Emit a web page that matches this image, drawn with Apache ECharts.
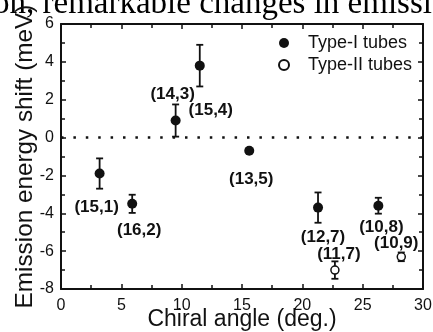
<!DOCTYPE html>
<html>
<head>
<meta charset="utf-8">
<script src="https://cdn.jsdelivr.net/npm/echarts@6/dist/echarts.min.js"></script>
<style>
  html, body { margin: 0; padding: 0; background: #fff; }
  #chart { width: 433px; height: 332px; }
</style>
</head>
<body>
<div id="chart"></div>
<script>
// Emission energy shift versus chiral angle for individual (n,m) nanotubes
const typeIAngles = [3.2, 5.9, 9.5, 11.5, 15.6, 21.3, 26.3];
const typeIShifts = [-1.9, -3.5, 0.9, 3.8, -0.7, -3.7, -3.6];
const typeIErrors = [0.8, 0.48, 0.85, 1.1, 0.1, 0.8, 0.42];
const typeILabels = ['(15,1)', '(16,2)', '(14,3)', '(15,4)', '(13,5)', '(12,7)', '(10,8)'];

const typeIIAngles = [22.7, 28.2];
const typeIIShifts = [-7.0, -6.3];
const typeIIErrors = [0.46, 0.23];
const typeIILabels = ['(11,7)', '(10,9)'];

const xTicks = [0, 5, 10, 15, 20, 25, 30];
const yTicks = [-8, -6, -4, -2, 0, 2, 4, 6];

// label placement (pixel offsets from each marker centre)
const typeILabelOffsets = [[-3, 34], [7, 26], [-3, -26], [11, 45], [2, 28], [5, 30], [3, 22]];
const typeIILabelOffsets = [[4, -16], [-5, -14]];

const FONT = '"Liberation Sans", Arial, sans-serif';
const INK = '#111';

function points(xs, ys, names, offsets) {
  return xs.map((x, i) => ({
    value: [x, ys[i]],
    name: names[i],
    label: { offset: offsets[i] }
  }));
}
function bars(xs, ys, errs) {
  return xs.map((x, i) => [x, ys[i], errs[i]]);
}

function renderErrorBar(params, api) {
  const x = api.value(0), y = api.value(1), e = api.value(2);
  const top = api.coord([x, y + e]);
  const bot = api.coord([x, y - e]);
  const hw = 3.5;
  const st = { stroke: INK, lineWidth: 1.8 };
  return {
    type: 'group',
    children: [
      { type: 'line', shape: { x1: top[0], y1: top[1], x2: bot[0], y2: bot[1] }, style: st },
      { type: 'line', shape: { x1: top[0] - hw, y1: top[1], x2: top[0] + hw, y2: top[1] }, style: st },
      { type: 'line', shape: { x1: bot[0] - hw, y1: bot[1], x2: bot[0] + hw, y2: bot[1] }, style: st }
    ]
  };
}

const xMin = xTicks[0], xMax = xTicks[xTicks.length - 1];
const yMin = yTicks[0], yMax = yTicks[yTicks.length - 1];

function xAxisBase(position, showLabel) {
  return {
    type: 'value', position, min: xMin, max: xMax, interval: xTicks[1] - xTicks[0],
    axisLine: { show: true, onZero: false, lineStyle: { color: INK, width: 2 } },
    axisTick: { show: true, inside: true, length: 5, lineStyle: { color: INK, width: 1.5 } },
    minorTick: { show: true, splitNumber: 2, length: 4, lineStyle: { color: INK, width: 1.5 } },
    splitLine: { show: false },
    axisLabel: { show: showLabel, color: INK, fontSize: 16, fontFamily: FONT, margin: 9 }
  };
}
function yAxisBase(position, showLabel) {
  return {
    type: 'value', position, min: yMin, max: yMax, interval: yTicks[1] - yTicks[0],
    axisLine: { show: true, onZero: false, lineStyle: { color: INK, width: 2 } },
    axisTick: { show: true, inside: true, length: 5, lineStyle: { color: INK, width: 1.5 } },
    minorTick: { show: true, splitNumber: 2, length: 4, lineStyle: { color: INK, width: 1.5 } },
    splitLine: { show: false },
    axisLabel: { show: showLabel, color: INK, fontSize: 16, fontFamily: FONT, margin: 7 }
  };
}

const labelStyle = {
  show: true, position: 'inside', formatter: '{b}',
  color: INK, fontSize: 17, fontWeight: 'bold', fontFamily: FONT
};

const chart = echarts.init(document.getElementById('chart'), null, { renderer: 'canvas' });
chart.setOption({
  animation: false,
  backgroundColor: '#fff',
  grid: { left: 61, right: 10, top: 24, bottom: 43, containLabel: false, outerBoundsMode: 'none' },
  xAxis: [
    Object.assign(xAxisBase('bottom', true), {
      name: 'Chiral angle (deg.)', nameLocation: 'middle', nameGap: 19, nameMoveOverlap: false,
      nameTextStyle: { color: INK, fontSize: 23, fontFamily: FONT }
    }),
    xAxisBase('top', false)
  ],
  yAxis: [
    Object.assign(yAxisBase('left', true), {
      name: 'Emission energy shift (meV)', nameLocation: 'middle', nameGap: 24, nameMoveOverlap: false,
      nameTextStyle: { color: INK, fontSize: 24.3, fontFamily: FONT }
    }),
    yAxisBase('right', false)
  ],
  legend: {
    orient: 'vertical', left: 273, top: 29,
    data: ['Type-I tubes', 'Type-II tubes'],
    icon: 'circle', itemWidth: 10, itemHeight: 10, itemGap: 4,
    textStyle: { color: INK, fontSize: 18, fontFamily: FONT, padding: [0, 0, 0, 14] }
  },
  graphic: [{
    type: 'text', left: -7, top: -12, silent: true,
    style: { text: 'on, remarkable changes in emissi', font: '33px "Liberation Serif", serif', fill: '#000' }
  }],
  series: [
    {
      type: 'custom', name: 'err-I', renderItem: renderErrorBar, z: 2,
      data: bars(typeIAngles, typeIShifts, typeIErrors)
    },
    {
      type: 'custom', name: 'err-II', renderItem: renderErrorBar, z: 2,
      data: bars(typeIIAngles, typeIIShifts, typeIIErrors)
    },
    {
      type: 'scatter', name: 'Type-I tubes', z: 4,
      symbol: 'circle', symbolSize: 10,
      itemStyle: { color: INK, borderColor: INK, borderWidth: 0, opacity: 1 },
      label: labelStyle,
      data: points(typeIAngles, typeIShifts, typeILabels, typeILabelOffsets),
      markLine: {
        silent: true, symbol: 'none', label: { show: false },
        lineStyle: { color: INK, type: [2.5, 9.9], width: 2.5 },
        data: [{ yAxis: 0 }]
      }
    },
    {
      type: 'scatter', name: 'Type-II tubes', z: 4,
      symbol: 'circle', symbolSize: 8,
      itemStyle: { color: '#fff', borderColor: INK, borderWidth: 1.5, opacity: 1 },
      label: labelStyle,
      data: points(typeIIAngles, typeIIShifts, typeIILabels, typeIILabelOffsets)
    }
  ]
});
</script>
</body>
</html>
